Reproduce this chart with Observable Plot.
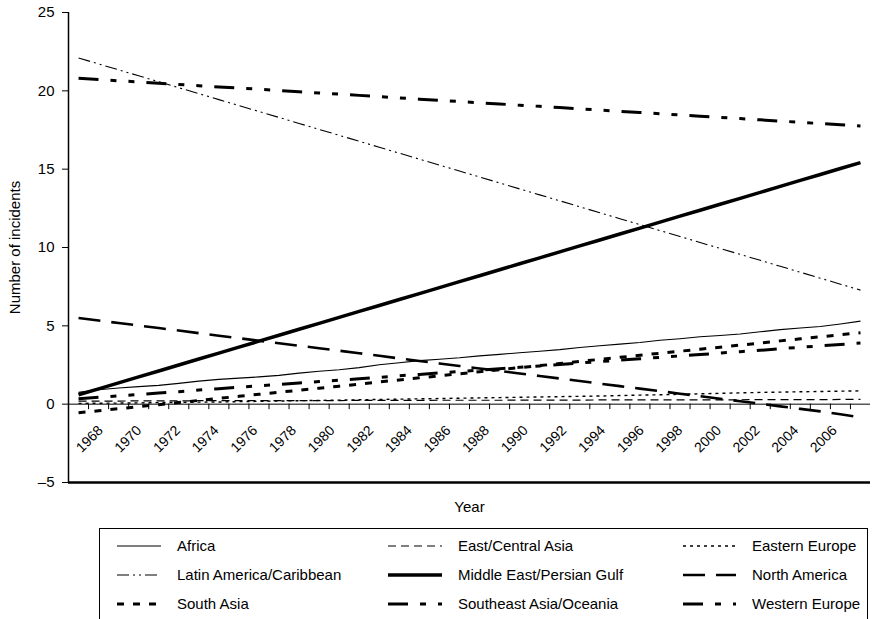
<!DOCTYPE html>
<html><head><meta charset="utf-8">
<script src="https://cdn.jsdelivr.net/npm/d3@7"></script>
<script src="https://cdn.jsdelivr.net/npm/@observablehq/plot@0.6"></script>
<style>body{margin:0;background:#fff;} #chart svg{display:block}</style>
</head><body><div id="chart"></div>
<script>
const years = [1968,1969,1970,1971,1972,1973,1974,1975,1976,1977,1978,1979,1980,1981,1982,1983,1984,1985,1986,1987,
               1988,1989,1990,1991,1992,1993,1994,1995,1996,1997,1998,1999,2000,2001,2002,2003,2004,2005,2006,2007];
const labelYears = [1968,1970,1972,1974,1976,1978,1980,1982,1984,1986,1988,1990,1992,1994,1996,1998,2000,2002,2004,2006];
const yTicks = [-5,0,5,10,15,20,25];

const africa = [0.75,0.92,1.03,1.12,1.2,1.33,1.47,1.58,1.66,1.74,1.84,1.98,2.1,2.2,2.33,2.52,2.64,2.78,2.87,2.96,
                3.08,3.18,3.28,3.38,3.48,3.62,3.73,3.83,3.94,4.08,4.18,4.3,4.38,4.48,4.62,4.76,4.86,4.96,5.12,5.3];
const eastCentralAsia = [0.2,0.2,0.2,0.21,0.21,0.21,0.22,0.22,0.22,0.22,0.23,0.23,0.23,0.23,0.24,0.24,0.24,0.24,0.25,0.25,
                0.25,0.25,0.26,0.26,0.26,0.26,0.27,0.27,0.27,0.27,0.28,0.28,0.28,0.28,0.29,0.29,0.29,0.29,0.3,0.3];
const easternEurope = [0.05,0.06,0.07,0.08,0.1,0.11,0.13,0.14,0.16,0.18,0.2,0.22,0.24,0.26,0.28,0.3,0.32,0.34,0.36,0.38,
                0.4,0.42,0.44,0.46,0.48,0.5,0.52,0.55,0.58,0.6,0.63,0.66,0.69,0.72,0.75,0.77,0.79,0.81,0.83,0.85];
const latinAmerica = [22.1,21.72,21.34,20.96,20.58,20.2,19.82,19.44,19.06,18.68,18.3,17.92,17.54,17.16,16.78,16.4,16.02,15.64,15.26,14.88,
                14.5,14.12,13.74,13.36,12.98,12.6,12.22,11.84,11.46,11.08,10.7,10.32,9.94,9.56,9.18,8.8,8.42,8.04,7.66,7.28];
const middleEast = [0.6,0.98,1.36,1.74,2.12,2.5,2.88,3.26,3.64,4.02,4.4,4.78,5.16,5.54,5.92,6.3,6.68,7.06,7.44,7.82,
                8.2,8.58,8.96,9.34,9.72,10.1,10.48,10.86,11.24,11.62,12.0,12.38,12.76,13.14,13.52,13.9,14.28,14.66,15.04,15.42];
const northAmerica = [5.5,5.34,5.18,5.02,4.86,4.7,4.53,4.37,4.21,4.05,3.89,3.73,3.57,3.41,3.25,3.09,2.92,2.76,2.6,2.44,
                2.28,2.12,1.96,1.8,1.64,1.48,1.31,1.15,0.99,0.83,0.67,0.51,0.35,0.19,0.03,-0.14,-0.3,-0.46,-0.64,-0.85];
const southAsia = [-0.55,-0.42,-0.29,-0.16,-0.03,0.1,0.24,0.37,0.5,0.63,0.76,0.89,1.02,1.15,1.28,1.42,1.55,1.68,1.81,1.94,
                2.07,2.2,2.33,2.46,2.59,2.73,2.86,2.99,3.12,3.25,3.38,3.51,3.64,3.77,3.9,4.04,4.17,4.3,4.43,4.56];
const southeastAsia = [0.35,0.44,0.53,0.62,0.71,0.8,0.9,0.99,1.08,1.17,1.26,1.35,1.44,1.53,1.62,1.71,1.81,1.9,1.99,2.08,
                2.17,2.26,2.35,2.44,2.53,2.63,2.72,2.81,2.9,2.99,3.08,3.17,3.26,3.35,3.44,3.54,3.63,3.72,3.81,3.9];
const westernEurope = [20.8,20.72,20.64,20.57,20.49,20.41,20.33,20.25,20.18,20.1,20.02,19.94,19.86,19.79,19.71,19.63,19.55,19.47,19.4,19.32,
                19.24,19.16,19.08,19.01,18.93,18.85,18.77,18.69,18.62,18.54,18.46,18.38,18.3,18.23,18.15,18.07,17.99,17.91,17.84,17.76];

const seriesNames = ["Africa","East/Central Asia","Eastern Europe","Latin America/Caribbean","Middle East/Persian Gulf",
                     "North America","South Asia","Southeast Asia/Oceania","Western Europe"];
const seriesValues = [africa,eastCentralAsia,easternEurope,latinAmerica,middleEast,northAmerica,southAsia,southeastAsia,westernEurope];

const styles = {
  "Africa": {strokeWidth: 1.1, dash: null},
  "East/Central Asia": {strokeWidth: 1.2, dash: "8,5"},
  "Eastern Europe": {strokeWidth: 1.4, dash: "3,4"},
  "Latin America/Caribbean": {strokeWidth: 1.1, dash: "12,4,2,4,2,4"},
  "Middle East/Persian Gulf": {strokeWidth: 3.5, dash: null},
  "North America": {strokeWidth: 2.6, dash: "22,11"},
  "South Asia": {strokeWidth: 3, dash: "7,9"},
  "Southeast Asia/Oceania": {strokeWidth: 3, dash: "20,12,6,12,6,12"},
  "Western Europe": {strokeWidth: 3, dash: "20,12,6,12,6,12"}
};

const rows = [];
seriesNames.forEach((n, i) => seriesValues[i].forEach((v, j) => rows.push({region: n, year: years[j], value: v})));
const boundaries = years.slice(1).map(y => y - 0.5);
// the reference's year labels are spaced slightly tighter than its data points
const labelSpacing = 0.9636;

const font = "'Liberation Sans', Arial, Helvetica, sans-serif";

const lineMarks = seriesNames.map(n => Plot.line(rows.filter(d => d.region === n), {
  x: "year", y: "value", stroke: "#000", strokeWidth: styles[n].strokeWidth,
  strokeDasharray: styles[n].dash || undefined, strokeLinecap: "butt", strokeLinejoin: "round"
}));

const plot = Plot.plot({
  width: 896, height: 520,
  marginLeft: 68, marginRight: 26, marginTop: 12, marginBottom: 38,
  style: {fontFamily: font, fontSize: "15px", color: "#000", background: "#fff", overflow: "visible"},
  x: {domain: [1967.5, 2007.5], axis: null},
  y: {domain: [-5, 25], ticks: yTicks, tickSize: 6, tickPadding: 8, label: null,
      tickFormat: d => d < 0 ? "\u2013" + Math.abs(d) : String(d)},
  marks: [
    Plot.ruleY([0], {stroke: "#000", strokeWidth: 1}),
    Plot.ruleY([-5], {stroke: "#000", strokeWidth: 2.5}),
    Plot.ruleX([1967.5], {stroke: "#000", strokeWidth: 1.5}),
    Plot.ruleX(boundaries, {x: d => d, y1: 0, y2: -0.35, stroke: "#000", strokeWidth: 1}),
    Plot.text(labelYears, {x: d => years[0] + (d - years[0]) * labelSpacing, y: 0, text: d => String(d),
      rotate: -45, textAnchor: "end", dx: 22, dy: 24, fontSize: 14, fill: "#000"}),
    Plot.text(["Year"], {frameAnchor: "bottom", dy: 29, fontSize: 15, fill: "#000"}),
    Plot.text(["Number of incidents"], {frameAnchor: "left", dx: -53, rotate: -90, textAnchor: "middle", fontSize: 15, fill: "#000"}),
    ...lineMarks
  ]
});
document.getElementById("chart").appendChild(plot);

// Legend below the chart
const leg = d3.create("svg").attr("width", 896).attr("height", 99)
  .style("display", "block").style("font-family", font).style("font-size", "15px");
leg.append("rect").attr("x", 99.5).attr("y", 8.5).attr("width", 768).attr("height", 130)
  .attr("fill", "none").attr("stroke", "#000").attr("stroke-width", 1);
const colX = [[117, 161, 177], [388, 442, 458], [683, 736, 752]];
const rowY = [26, 55, 84];
seriesNames.forEach((n, i) => {
  const r = Math.floor(i / 3), c = i % 3, s = styles[n];
  leg.append("line").attr("x1", colX[c][0]).attr("x2", colX[c][1]).attr("y1", rowY[r]).attr("y2", rowY[r])
    .attr("stroke", "#000").attr("stroke-width", s.strokeWidth)
    .attr("stroke-dasharray", s.dash || null);
  leg.append("text").attr("x", colX[c][2]).attr("y", rowY[r]).attr("dy", "0.35em").attr("fill", "#000").text(n);
});
document.getElementById("chart").appendChild(leg.node());
</script>
</body></html>
